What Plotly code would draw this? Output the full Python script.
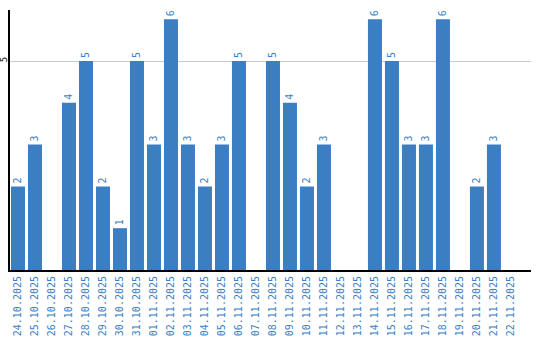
import plotly.graph_objects as go

dates = ["24.10.2025","25.10.2025","26.10.2025","27.10.2025","28.10.2025","29.10.2025",
         "30.10.2025","31.10.2025","01.11.2025","02.11.2025","03.11.2025","04.11.2025",
         "05.11.2025","06.11.2025","07.11.2025","08.11.2025","09.11.2025","10.11.2025",
         "11.11.2025","12.11.2025","13.11.2025","14.11.2025","15.11.2025","16.11.2025",
         "17.11.2025","18.11.2025","19.11.2025","20.11.2025","21.11.2025","22.11.2025"]
values = [2,3,0,4,5,2,1,5,3,6,3,2,3,5,0,5,4,2,3,0,0,6,5,3,3,6,0,2,3,0]

blue = "#3b7ec2"
mono = "DejaVu Sans Mono"

fig = go.Figure(go.Bar(
    x=dates, y=values,
    marker=dict(color=blue, line=dict(width=0)),
    text=[str(v) if v else "" for v in values],
    textposition="outside", textangle=-90,
    textfont=dict(family=mono, size=10, color=blue),
    cliponaxis=False,
))
fig.update_layout(
    width=540, height=340,
    margin=dict(l=10, r=9, t=10, b=70),
    paper_bgcolor="white", plot_bgcolor="white",
    bargap=0.176, showlegend=False,
    xaxis=dict(type="category", range=[-0.47, 30.18], tickangle=-90, showline=True,
               linecolor="black", linewidth=2,
               tickfont=dict(family=mono, size=10, color=blue), showgrid=False,
               ticks="", automargin=False),
    yaxis=dict(range=[0, 6.22], tickvals=[5], ticktext=["5"], tickangle=-90,
               showgrid=True, gridcolor="#cccccc", gridwidth=1, zeroline=False,
               showline=True, linecolor="black", linewidth=2, ticklabelstandoff=-3,
               tickfont=dict(family=mono, size=9, color="black"), ticks="", automargin=False),
)
fig.write_html("out.html")
